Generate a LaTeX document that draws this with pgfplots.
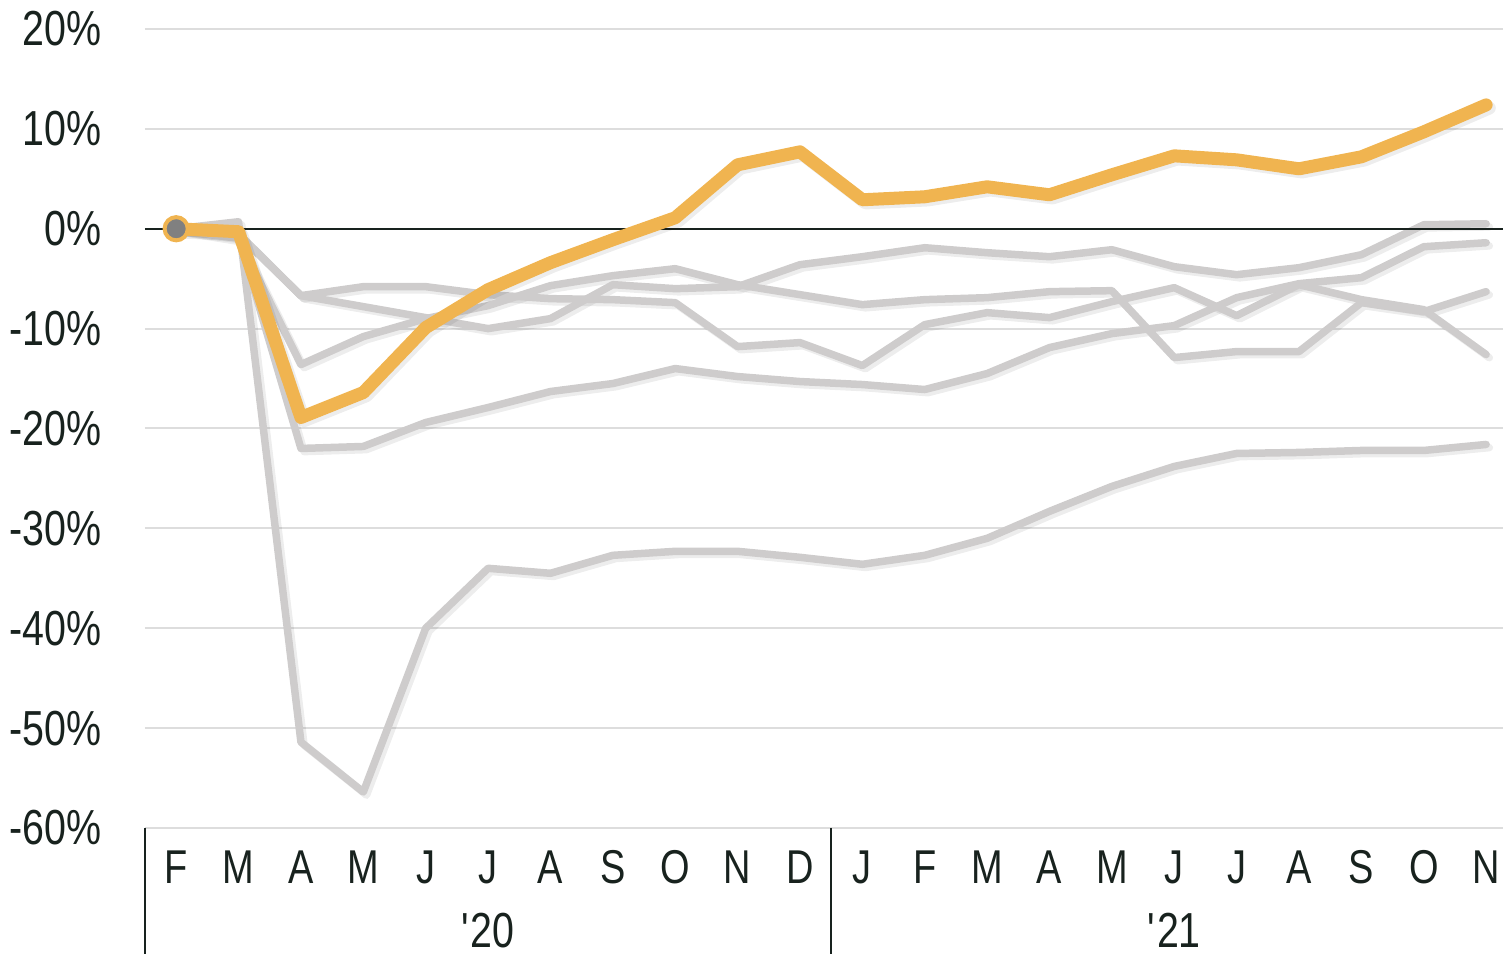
\documentclass[border=0pt]{standalone}
\usepackage{fontspec}
\setmainfont{Liberation Sans}[FakeStretch=0.8]
\usepackage{pgfplots}
\usepackage{pgfplotstable}
\pgfplotsset{compat=1.18}
\definecolor{gold}{RGB}{240,180,80}
\definecolor{grayline}{RGB}{206,204,204}
\definecolor{gridc}{RGB}{221,221,221}
\definecolor{ink}{RGB}{24,34,30}
\definecolor{dotfill}{RGB}{128,128,128}

% monthly change vs Feb 2020, in percent
\pgfplotstableread{
x  o     g1     g2     g3    g4     g5
0  0     0      0      0     0      0
1  -0.3  0.7    -0.8   -0.6  -1.0   -0.5
2  -18.9 -51.4  -22.0  -6.7  -13.6  -6.7
3  -16.4 -56.4  -21.8  -7.8  -10.8  -5.8
4  -9.9  -40.0  -19.4  -8.9  -9.0   -5.8
5  -6.1  -34.0  -17.9  -10.0 -7.7   -6.6
6  -3.4  -34.5  -16.3  -9.0  -5.7   -7.0
7  -1.1  -32.7  -15.5  -5.6  -4.7   -7.1
8  1.1   -32.3  -14.0  -6.0  -4.0   -7.4
9  6.4   -32.3  -14.8  -5.8  -5.6   -11.8
10 7.7   -32.9  -15.3  -3.6  -6.6   -11.4
11 2.9   -33.6  -15.6  -2.8  -7.6   -13.7
12 3.2   -32.7  -16.1  -1.9  -7.1   -9.6
13 4.2   -31.0  -14.5  -2.4  -6.9   -8.4
14 3.4   -28.3  -11.9  -2.8  -6.3   -8.9
15 5.4   -25.8  -10.5  -2.1  -6.2   -7.3
16 7.3   -23.8  -9.7   -3.8  -12.9  -5.9
17 6.9   -22.5  -6.9   -4.6  -12.3  -8.7
18 6.0   -22.4  -5.5   -3.9  -12.3  -5.6
19 7.2   -22.2  -4.9   -2.6  -7.4   -7.1
20 9.7   -22.2  -1.8   0.4   -8.3   -8.1
21 12.4  -21.6  -1.4   0.5   -6.3   -12.6
}\data

\begin{document}
\begin{tikzpicture}
\begin{axis}[
  at={(0,0)}, anchor=south west,
  scale only axis, width=13.58cm, height=7.99cm,
  xmin=-0.5, xmax=21.27, ymin=-60, ymax=20,
  clip=false,
  axis line style={draw=none},
  major tick length=0pt,
  ytick={-60,-50,...,20},
  yticklabels={-60\%,-50\%,-40\%,-30\%,-20\%,-10\%,0\%,10\%,20\%},
  xtick={0,...,21},
  xticklabels={F,M,A,M,J,J,A,S,O,N,D,J,F,M,A,M,J,J,A,S,O,N},
  ymajorgrids,
  grid style={gridc, line width=0.02cm},
  ticklabel style={text=ink, font=\fontsize{14}{16}\selectfont},
  yticklabel style={anchor=east, inner sep=0pt, xshift=-0.43cm},
  xticklabel style={anchor=base, inner sep=0pt, yshift=-0.56cm, font=\fontsize{13.5}{16}\selectfont},
  shadow/.style={draw=black, opacity=0.07, transform canvas={xshift=0.9pt, yshift=-0.9pt}},
  gline/.style={grayline, line width=0.075cm, line join=round, line cap=round},
]
% shadows of the gray lines
\foreach \c in {g1,g2,g3,g4,g5} {
  \addplot[gline, shadow] table[x=x, y=\c] {\data};
}
\foreach \c in {g1,g2,g3,g4,g5} {
  \addplot[gline] table[x=x, y=\c] {\data};
}
\draw[ink, line width=0.016cm] (axis cs:-0.5,0) -- (axis cs:21.27,0);
\addplot[gold, line width=0.13cm, line join=round, line cap=round, shadow] table[x=x, y=o] {\data};
\addplot[gold, line width=0.13cm, line join=round, line cap=round] table[x=x, y=o] {\data};
\addplot[only marks, mark=*, mark size=3.3pt,
  mark options={fill=dotfill, draw=gold, line width=0.04cm}] coordinates {(0,0)};
% period separators and year labels
\draw[ink, line width=0.015cm] (axis cs:-0.5,-60) -- ([yshift=-1.26cm]axis cs:-0.5,-60);
\draw[ink, line width=0.015cm] (axis cs:10.5,-60) -- ([yshift=-1.26cm]axis cs:10.5,-60);
\node[anchor=base, text=ink, inner sep=0pt, font=\fontsize{14}{16}\selectfont]
  at (axis cs:5,-60) [yshift=-1.2cm] {\textquotesingle20};
\node[anchor=base, text=ink, inner sep=0pt, font=\fontsize{14}{16}\selectfont]
  at (axis cs:16,-60) [yshift=-1.2cm] {\textquotesingle21};
\end{axis}
\pgfresetboundingbox
\path[use as bounding box] (-1.45,-1.26) rectangle (13.58,8.28);
\end{tikzpicture}
\end{document}
